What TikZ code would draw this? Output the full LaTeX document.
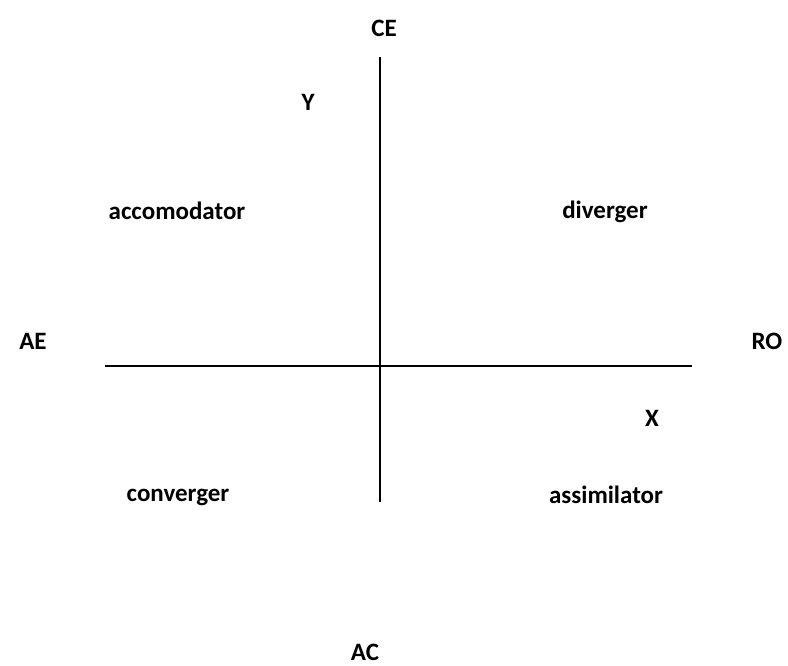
\documentclass[tikz,border=0pt]{standalone}
\usepackage{fontspec}
\setmainfont{Carlito}
\begin{document}
\begin{tikzpicture}[x=1pt,y=-1pt,
  lbl/.style={font=\fontsize{25}{30}\selectfont\bfseries, inner sep=0pt, anchor=center},
  axisthick/.style={line width=2.8pt},
  axisthin/.style={line width=1.6pt}]
\useasboundingbox[fill=white] (0,0) rectangle (788,665);
\coordinate (top) at (380,57);
\coordinate (bot) at (380,502);
\coordinate (lft) at (105,366);
\coordinate (rgt) at (692,366);
\coordinate (o) at (380,366);
\draw[axisthick] (lft) -- (o);
\draw[axisthin] (o) -- (rgt);
\draw[axisthick] (top) -- (o);
\draw[axisthin] (o) -- (bot);
\node[lbl] (ce) at (384,28) {CE};
\node[lbl] (y) at (308,102) {Y};
\node[lbl] (acc) at (177,211) {accomodator};
\node[lbl] (div) at (605,212) {diverger};
\node[lbl] (ae) at (33,341) {AE};
\node[lbl] (ro) at (767,341) {RO};
\node[lbl] (x) at (652,418) {X};
\node[lbl] (con) at (178,497) {converger};
\node[lbl] (ass) at (606,495) {assimilator};
\node[lbl] (ac) at (365,652) {AC};
\end{tikzpicture}
\end{document}
